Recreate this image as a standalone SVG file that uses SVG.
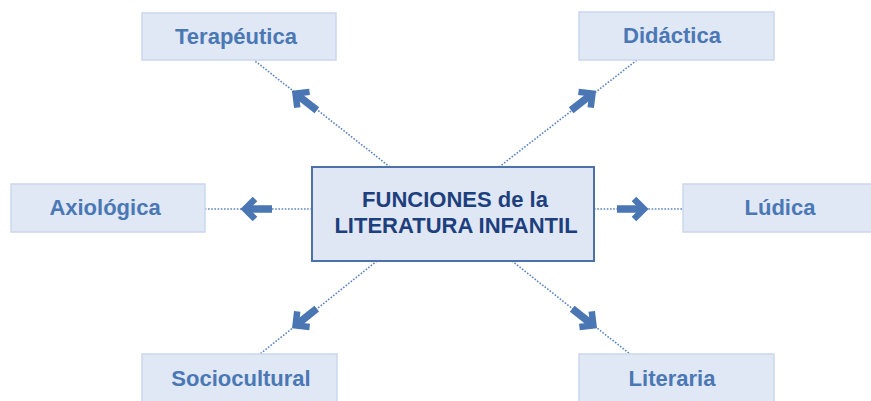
<svg xmlns="http://www.w3.org/2000/svg" width="871" height="401" viewBox="0 0 871 401">
<defs>
<style>
.box{fill:#e0e7f5;stroke:#cbd7ee;stroke-width:1.5}
.lbl{font-family:"Liberation Sans",Arial,sans-serif;font-weight:bold;font-size:22px;fill:#4a78b5;text-anchor:middle}
.center{fill:#dfe6f4;stroke:#4d70a6;stroke-width:2}
.ctext{font-family:"Liberation Sans",Arial,sans-serif;font-weight:bold;font-size:22px;fill:#1d3f7d;text-anchor:middle}
.dot{stroke:#5a86c2;stroke-width:1.6;stroke-dasharray:1.6 1.6;fill:none}
.arr{stroke:#4a76b3;fill:none}
</style>
<g id="arrow">
<path class="arr" d="M-15,0 H10" stroke-width="7.5"/>
<path class="arr" d="M2,-10 L12,0 L2,10" stroke-width="6.5" stroke-linejoin="miter"/>
</g>
</defs>
<rect width="871" height="401" fill="#ffffff"/>
<g id="connectors">
<line class="dot" x1="390" y1="167" x2="255" y2="61"/>
<line class="dot" x1="499" y1="167" x2="637" y2="60"/>
<line class="dot" x1="312" y1="209" x2="205" y2="209"/>
<line class="dot" x1="594" y1="209" x2="683" y2="209"/>
<line class="dot" x1="377" y1="261" x2="260" y2="354"/>
<line class="dot" x1="512" y1="261" x2="630" y2="354"/>
<use href="#arrow" transform="translate(305,101) rotate(217.9)"/>
<use href="#arrow" transform="translate(583,101) rotate(-37.8)"/>
<use href="#arrow" transform="translate(257,209) rotate(180)"/>
<use href="#arrow" transform="translate(632,209)"/>
<use href="#arrow" transform="translate(305,318) rotate(141.5)"/>
<use href="#arrow" transform="translate(584,318) rotate(38.2)"/>
</g>
<g id="center">
<rect class="center" x="312" y="167" width="282" height="94"/>
<text class="ctext" x="455" y="207">FUNCIONES de la</text>
<text class="ctext" x="456" y="233">LITERATURA INFANTIL</text>
</g>
<g id="terapeutica">
<rect class="box" x="142" y="13" width="194" height="47"/>
<text class="lbl" x="236" y="44">Terapéutica</text>
</g>
<g id="didactica">
<rect class="box" x="579" y="12" width="195" height="48"/>
<text class="lbl" x="672" y="43">Didáctica</text>
</g>
<g id="axiologica">
<rect class="box" x="11" y="184" width="194" height="48"/>
<text class="lbl" x="105" y="215">Axiológica</text>
</g>
<g id="ludica">
<rect class="box" x="683" y="184" width="190" height="48"/>
<text class="lbl" x="780" y="215">Lúdica</text>
</g>
<g id="sociocultural">
<rect class="box" x="142" y="354" width="195" height="50"/>
<text class="lbl" x="241" y="386">Sociocultural</text>
</g>
<g id="literaria">
<rect class="box" x="579" y="354" width="195" height="50"/>
<text class="lbl" x="672" y="386">Literaria</text>
</g>
</svg>
